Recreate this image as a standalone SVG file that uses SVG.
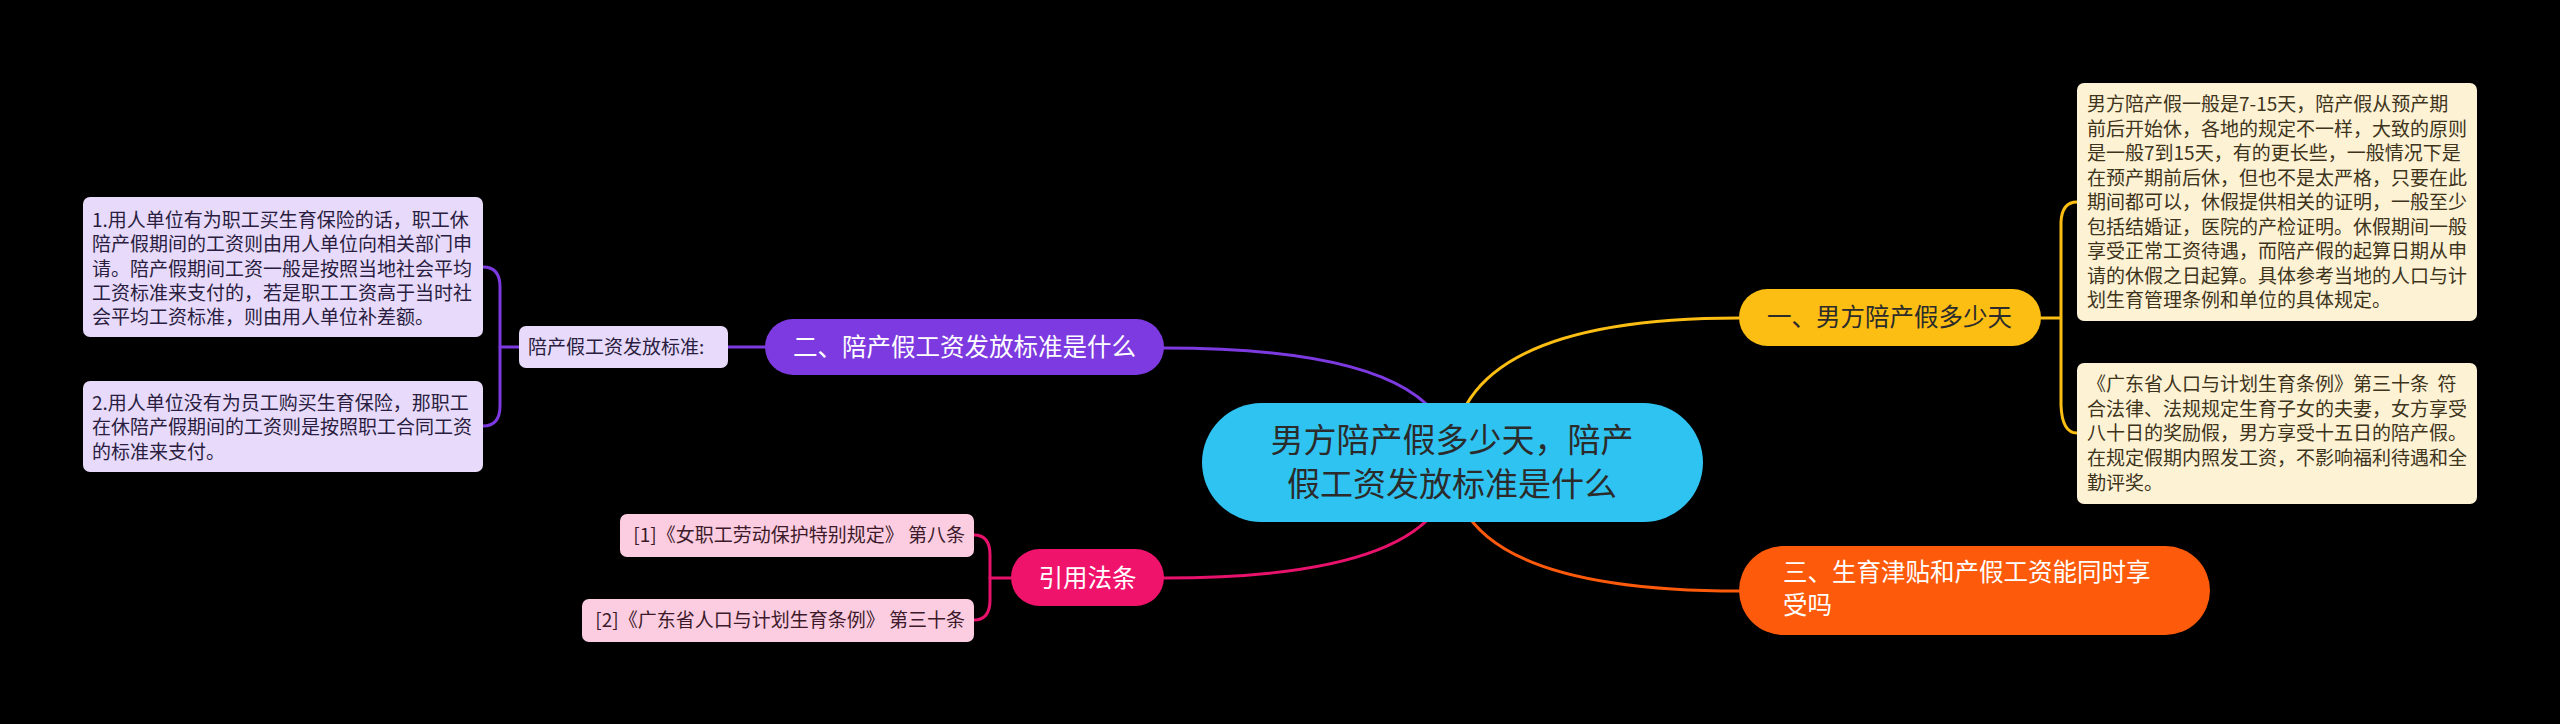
<svg xmlns="http://www.w3.org/2000/svg" width="2560" height="724" viewBox="0 0 2560 724">
<style>
text{font-family:"Noto Sans CJK SC","Noto Sans",sans-serif;white-space:pre}
.c{fill:none;stroke-width:3;stroke-linecap:round}
.t19{font-size:19px}
.t24{font-size:24.5px}
.dk{fill:#2b2b2b}
.wh{fill:#ffffff}
.yb{fill:#fdf2d4}
.yt{fill:#3e341c}
.pb{fill:#e7dafa}
.pt{fill:#2a1d40}
.kb{fill:#fccde1}
.kt{fill:#3d1a2a}
</style>
<rect width="2560" height="724" fill="#000"/>
<g id="connectors">
<path class="c" stroke="#7d3ae0" d="M1452,462 Q1452,348 1164,348"/>
<path class="c" stroke="#fcbe12" d="M1452,462 Q1452,318 1739,318"/>
<path class="c" stroke="#e8126c" d="M1452,462 Q1452,578 1164,578"/>
<path class="c" stroke="#fd5a0b" d="M1452,462 Q1452,591 1739,591"/>
<path class="c" stroke="#7d3ae0" d="M765,347 H728"/>
<path class="c" stroke="#7d3ae0" d="M519,347 H500"/>
<path class="c" stroke="#7d3ae0" d="M483,267 Q500,267 500,287 V406 Q500,426 483,426"/>
<path class="c" stroke="#fcbe12" d="M2041,318 H2060"/>
<path class="c" stroke="#fcbe12" d="M2077,202 Q2062,202 2061,222 L2061,405 Q2062,433 2077,433"/>
<path class="c" stroke="#e8126c" d="M1011,578 H990"/>
<path class="c" stroke="#e8126c" d="M974,535 Q990,535 990,555 V600 Q990,620 974,620"/>
</g>
<g id="center">
<rect x="1202" y="403" width="501" height="119" rx="59.5" fill="#2fc3f1"/>
<text x="1452" y="452" text-anchor="middle" font-size="33" class="dk">男方陪产假多少天，陪产</text>
<text x="1452" y="496" text-anchor="middle" font-size="33" class="dk">假工资发放标准是什么</text>
</g>
<g id="n1">
<rect x="1739" y="289" width="302" height="57" rx="28.5" fill="#fcbe12"/>
<text x="1767" y="326" class="t24 dk">一、男方陪产假多少天</text>
</g>
<g id="n1a">
<rect x="2077" y="83" width="400" height="238" rx="7" class="yb"/>
<text class="t19 yt">
<tspan x="2087" y="111">男方陪产假一般是7-15天，陪产假从预产期</tspan>
<tspan x="2087" y="135.5">前后开始休，各地的规定不一样，大致的原则</tspan>
<tspan x="2087" y="160">是一般7到15天，有的更长些，一般情况下是</tspan>
<tspan x="2087" y="184.5">在预产期前后休，但也不是太严格，只要在此</tspan>
<tspan x="2087" y="209">期间都可以，休假提供相关的证明，一般至少</tspan>
<tspan x="2087" y="233.5">包括结婚证，医院的产检证明。休假期间一般</tspan>
<tspan x="2087" y="258">享受正常工资待遇，而陪产假的起算日期从申</tspan>
<tspan x="2087" y="282.5">请的休假之日起算。具体参考当地的人口与计</tspan>
<tspan x="2087" y="307">划生育管理条例和单位的具体规定。</tspan>
</text>
</g>
<g id="n1b">
<rect x="2077" y="363" width="400" height="141" rx="7" class="yb"/>
<text class="t19 yt">
<tspan x="2087" y="391">《广东省人口与计划生育条例》第三十条  符</tspan>
<tspan x="2087" y="415.7">合法律、法规规定生育子女的夫妻，女方享受</tspan>
<tspan x="2087" y="440.4">八十日的奖励假，男方享受十五日的陪产假。</tspan>
<tspan x="2087" y="465.1">在规定假期内照发工资，不影响福利待遇和全</tspan>
<tspan x="2087" y="489.8">勤评奖。</tspan>
</text>
</g>
<g id="n2">
<rect x="765" y="319" width="399" height="56" rx="28" fill="#7d3ae0"/>
<text x="793" y="356" class="t24 wh">二、陪产假工资发放标准是什么</text>
</g>
<g id="n2a">
<rect x="519" y="326" width="209" height="42" rx="7" class="pb"/>
<text x="528" y="354" class="t19 pt">陪产假工资发放标准:</text>
</g>
<g id="n2a1">
<rect x="83" y="197" width="400" height="140" rx="7" class="pb"/>
<text class="t19 pt">
<tspan x="92" y="227">1.用人单位有为职工买生育保险的话，职工休</tspan>
<tspan x="92" y="251.3">陪产假期间的工资则由用人单位向相关部门申</tspan>
<tspan x="92" y="275.6">请。陪产假期间工资一般是按照当地社会平均</tspan>
<tspan x="92" y="299.9">工资标准来支付的，若是职工工资高于当时社</tspan>
<tspan x="92" y="324.2">会平均工资标准，则由用人单位补差额。</tspan>
</text>
</g>
<g id="n2a2">
<rect x="83" y="381" width="400" height="91" rx="7" class="pb"/>
<text class="t19 pt">
<tspan x="92" y="410">2.用人单位没有为员工购买生育保险，那职工</tspan>
<tspan x="92" y="434.3">在休陪产假期间的工资则是按照职工合同工资</tspan>
<tspan x="92" y="458.6">的标准来支付。</tspan>
</text>
</g>
<g id="n3">
<rect x="1011" y="549" width="153" height="57" rx="28.5" fill="#f0136c"/>
<text x="1087.5" y="587" text-anchor="middle" class="t24 wh">引用法条</text>
</g>
<g id="n3a">
<rect x="620" y="514" width="354" height="43" rx="7" class="kb"/>
<text x="965" y="542" text-anchor="end" class="t19 kt">[1]《女职工劳动保护特别规定》 第八条</text>
</g>
<g id="n3b">
<rect x="582" y="599" width="392" height="43" rx="7" class="kb"/>
<text x="965" y="627" text-anchor="end" class="t19 kt">[2]《广东省人口与计划生育条例》 第三十条</text>
</g>
<g id="n4">
<rect x="1739" y="546" width="471" height="89" rx="44.5" fill="#fd5a0b"/>
<text class="t24 wh">
<tspan x="1783" y="581">三、生育津贴和产假工资能同时享</tspan>
<tspan x="1783" y="614">受吗</tspan>
</text>
</g>
</svg>
